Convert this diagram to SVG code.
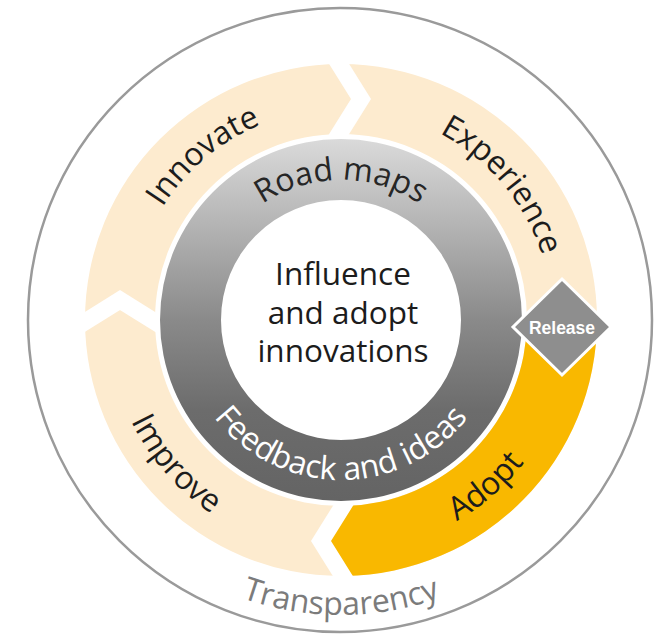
<svg xmlns="http://www.w3.org/2000/svg" width="669" height="636" viewBox="0 0 669 636">
  <defs>
    <linearGradient id="grayRing" gradientUnits="userSpaceOnUse" x1="0" y1="139" x2="0" y2="501">
      <stop offset="0" stop-color="#DADADA"/>
      <stop offset="0.5" stop-color="#8A8A8A"/>
      <stop offset="0.75" stop-color="#6C6C6C"/>
      <stop offset="1" stop-color="#646464"/>
    </linearGradient>
    <path id="pRoad" d="M 201 320 A 140 140 0 0 1 481 320"/>
    <path id="pInnovate" d="M 178.6 456.27 A 212 212 0 0 1 503.4 183.73"/>
    <path id="pExperience" d="M 204.73 157.6 A 212 212 0 0 1 477.27 482.4"/>
    <path id="pImprove" d="M 188.13 144.15 A 233 233 0 0 0 493.87 495.85"/>
    <path id="pAdopt" d="M 165.91 472.21 A 232 232 0 0 0 516.09 167.79"/>
    <path id="pFeedback" d="M 181 320 A 160 160 0 0 0 501 320"/>
    <path id="pTransparency" d="M 46 320 A 295 295 0 0 0 636 320"/>
  </defs>
  <style>
    .ring { font-family: "Open Sans", "Liberation Sans", sans-serif; font-size: 32px; fill: #1c1c1c; }
    .gap { fill: none; stroke: #FFFFFF; stroke-width: 17; stroke-linejoin: miter; }
    .center { font-family: "Open Sans", "Liberation Sans", sans-serif; font-size: 31.5px; fill: #1c1c1c; text-anchor: middle; }
  </style>

  <rect width="669" height="636" fill="#FFFFFF"/>

  <g id="transparency">
    <circle cx="340" cy="320" r="312" fill="none" stroke="#9A9A9A" stroke-width="2.5"/>
    <text class="ring" style="fill:#7B7B7B" text-anchor="middle"><textPath href="#pTransparency" startOffset="50%">Transparency</textPath></text>
  </g>

  <g id="cycle-ring">
    <path id="ring-beige" fill="#FDEBCF" fill-rule="evenodd" d="M 85 320 A 256 256 0 1 0 597 320 A 256 256 0 1 0 85 320 Z M 155 320 A 186 186 0 1 1 527 320 A 186 186 0 1 1 155 320 Z"/>
    <path id="ring-adopt" fill="#F9B800" d="M 527 320 L 597 320 A 256 256 0 0 1 345 575.97 L 321 541 L 345 506 A 186 186 0 0 0 527 320 Z"/>
  </g>

  <g id="connectors">
    <polyline class="gap" points="335.4,58 361,99 335.4,140"/>
    <polyline class="gap" points="79,325.6 120,300 161,325.6"/>
    <polyline class="gap" points="346.6,582 321,541 346.6,500"/>
  </g>

  <g id="road-maps-ring">
    <path fill="url(#grayRing)" fill-rule="evenodd" d="M 160 320 A 181 181 0 1 0 522 320 A 181 181 0 1 0 160 320 Z M 221 320 A 120 120 0 1 1 461 320 A 120 120 0 1 1 221 320 Z"/>
    <text class="ring" style="fill:#262626" text-anchor="middle"><textPath href="#pRoad" startOffset="50%">Road maps</textPath></text>
    <text class="ring" style="fill:#FFFFFF" text-anchor="middle"><textPath href="#pFeedback" startOffset="50%">Feedback and ideas</textPath></text>
  </g>

  <g id="center">
    <text class="center" x="343" y="285">Influence</text>
    <text class="center" x="343" y="324">and adopt</text>
    <text class="center" x="343" y="362">innovations</text>
  </g>

  <g id="innovate">
    <text class="ring" text-anchor="middle"><textPath href="#pInnovate" startOffset="50%">Innovate</textPath></text>
  </g>
  <g id="experience">
    <text class="ring" text-anchor="middle"><textPath href="#pExperience" startOffset="50%">Experience</textPath></text>
  </g>
  <g id="adopt">
    <text class="ring" text-anchor="middle"><textPath href="#pAdopt" startOffset="50%">Adopt</textPath></text>
  </g>
  <g id="improve">
    <text class="ring" text-anchor="middle"><textPath href="#pImprove" startOffset="50%">Improve</textPath></text>
  </g>

  <g id="release">
    <polygon points="562,279 611,327 562,375 513,327" fill="#8E8E8E" stroke="#FFFFFF" stroke-width="3"/>
    <text x="562" y="333.5" text-anchor="middle" font-family="'Liberation Sans', Arial, sans-serif" font-weight="bold" font-size="17.5" fill="#FFFFFF">Release</text>
  </g>
</svg>
